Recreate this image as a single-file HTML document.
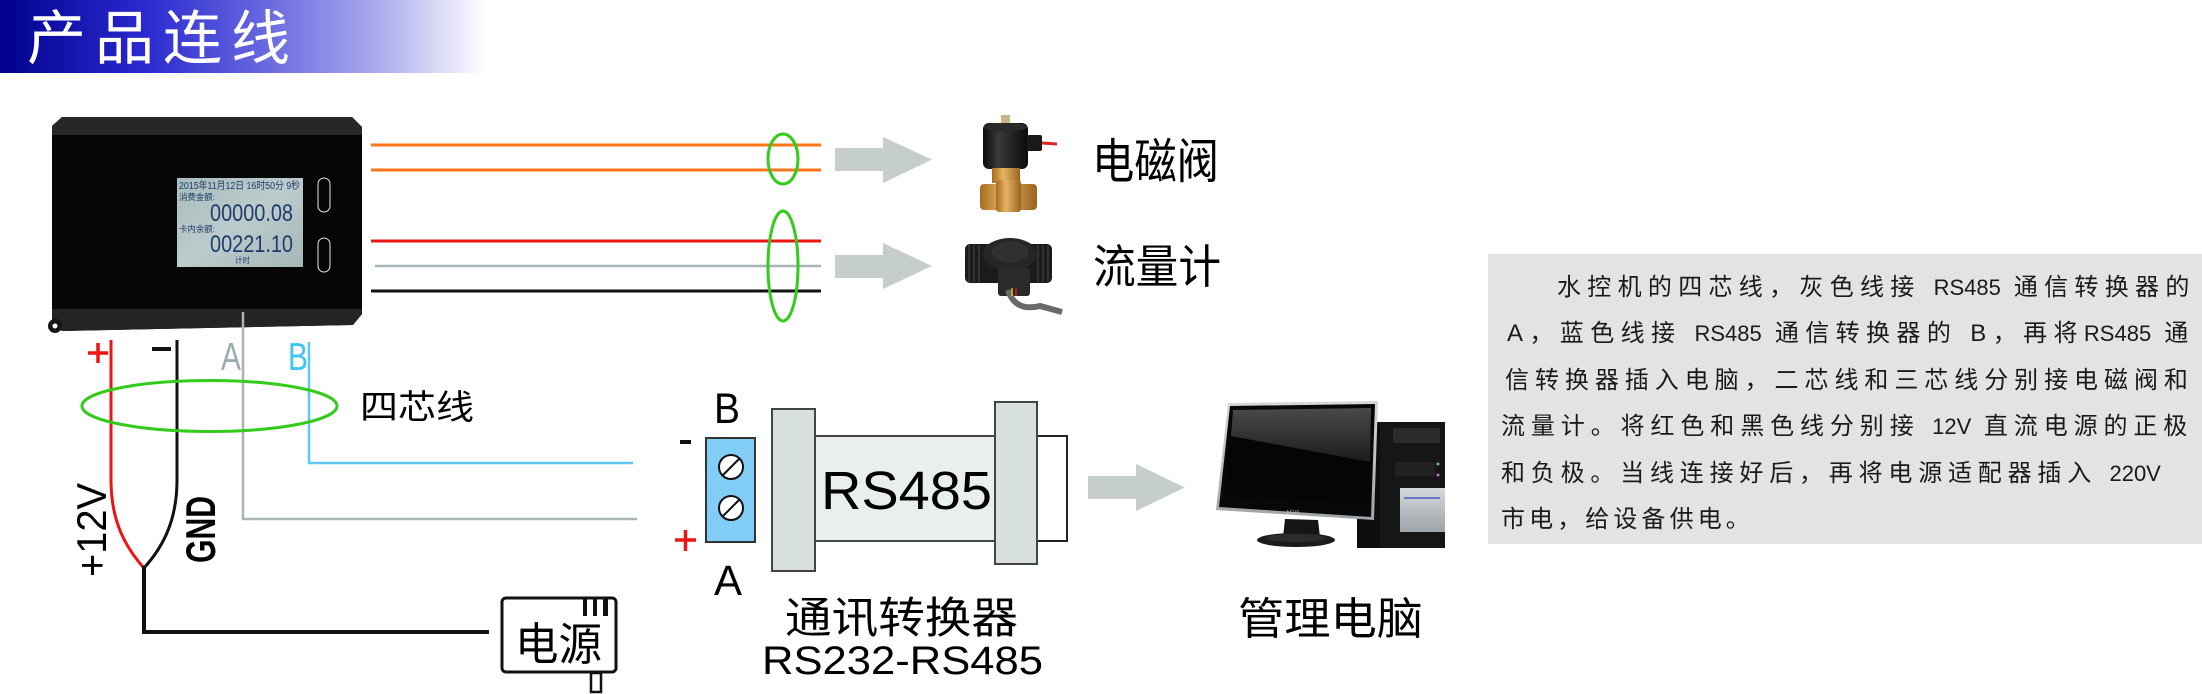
<!DOCTYPE html>
<html>
<head>
<meta charset="utf-8">
<style>
html,body{margin:0;padding:0;background:#fff;}
body{width:2202px;height:694px;overflow:hidden;}
svg{display:block;}
text{font-family:"Liberation Sans","Noto Sans CJK SC",sans-serif;}
.cjk{font-family:"Liberation Sans","Noto Sans CJK SC",sans-serif;}
</style>
</head>
<body>
<svg width="2202" height="694" viewBox="0 0 2202 694" xmlns="http://www.w3.org/2000/svg">
<defs>
  <linearGradient id="hdr" x1="0" y1="0" x2="1" y2="0">
    <stop offset="0" stop-color="#00008c"/>
    <stop offset="0.3" stop-color="#2a2ad0"/>
    <stop offset="0.55" stop-color="#6a6ae0"/>
    <stop offset="0.78" stop-color="#acacee"/>
    <stop offset="1" stop-color="#ffffff"/>
  </linearGradient>
  <linearGradient id="lcd" x1="0" y1="0" x2="1" y2="1">
    <stop offset="0" stop-color="#a9bcbc"/>
    <stop offset="0.5" stop-color="#bccbcb"/>
    <stop offset="1" stop-color="#a5b7b8"/>
  </linearGradient>
  <linearGradient id="brass" x1="0" y1="0" x2="1" y2="0">
    <stop offset="0" stop-color="#a86c20"/>
    <stop offset="0.4" stop-color="#e4b464"/>
    <stop offset="1" stop-color="#9a6420"/>
  </linearGradient>
  <linearGradient id="coil" x1="0" y1="0" x2="1" y2="0">
    <stop offset="0" stop-color="#0a0a0a"/>
    <stop offset="0.35" stop-color="#3a3a3a"/>
    <stop offset="1" stop-color="#0a0a0a"/>
  </linearGradient>
  <linearGradient id="scr" x1="0" y1="0" x2="0" y2="1">
    <stop offset="0" stop-color="#4a4a4a"/>
    <stop offset="1" stop-color="#1c1c1c"/>
  </linearGradient>
  <linearGradient id="silver" x1="0" y1="0" x2="0" y2="1">
    <stop offset="0" stop-color="#d6d9dc"/>
    <stop offset="1" stop-color="#9ea3a8"/>
  </linearGradient>
</defs>

<!-- Header -->
<rect x="0" y="0" width="487" height="73" fill="url(#hdr)"/>
<text x="27" y="59" font-size="59" fill="#ffffff" letter-spacing="9" class="cjk">产品连线</text>

<!-- Device -->
<polygon points="52,126 62,117 352,117 362,127 362,314 353,325 62,331 52,322" fill="#060606"/>
<polygon points="52,126 62,117 352,117 362,127 362,135 52,135" fill="#272727"/>
<polygon points="52,309 362,309 362,314 353,325 62,331 52,322" fill="#242424"/>
<circle cx="55" cy="326" r="7" fill="#151515"/>
<circle cx="55" cy="326" r="2.5" fill="#ffffff"/>
<!-- LCD -->
<rect x="177" y="178" width="126" height="89" fill="url(#lcd)"/>
<g fill="#1d3b6c">
  <text x="179" y="189" font-size="10" textLength="121" lengthAdjust="spacingAndGlyphs">2015年11月12日 16时50分 9秒</text>
  <text x="179" y="200" font-size="8.5" textLength="36" lengthAdjust="spacingAndGlyphs">消费金额:</text>
  <text x="210" y="221" font-size="24" textLength="83" lengthAdjust="spacingAndGlyphs">00000.08</text>
  <text x="179" y="232" font-size="8.5" textLength="36" lengthAdjust="spacingAndGlyphs">卡内余额:</text>
  <text x="210" y="252" font-size="24" textLength="83" lengthAdjust="spacingAndGlyphs">00221.10</text>
  <text x="235" y="263" font-size="8" textLength="15" lengthAdjust="spacingAndGlyphs">计时</text>
</g>
<rect x="318" y="178" width="12" height="34" rx="6" fill="none" stroke="#e8e8e8" stroke-width="1"/>
<rect x="318" y="238" width="12" height="34" rx="6" fill="none" stroke="#e8e8e8" stroke-width="1"/>

<!-- Right wires -->
<line x1="371" y1="145" x2="821" y2="145" stroke="#ff7518" stroke-width="3"/>
<line x1="371" y1="170" x2="821" y2="170" stroke="#ff7518" stroke-width="3"/>
<line x1="371" y1="241" x2="821" y2="241" stroke="#ee1414" stroke-width="3"/>
<line x1="375" y1="266" x2="821" y2="266" stroke="#a8b4b8" stroke-width="2.5"/>
<line x1="371" y1="291" x2="821" y2="291" stroke="#111111" stroke-width="3"/>
<ellipse cx="783" cy="159" rx="15" ry="25" fill="none" stroke="#33cc1a" stroke-width="3"/>
<ellipse cx="783" cy="266" rx="15" ry="55" fill="none" stroke="#33cc1a" stroke-width="3"/>

<!-- Arrows -->
<polygon points="835,148 883,148 883,137 932,159.5 883,183 883,171 835,171" fill="#c5cdcd"/>
<polygon points="835,255 883,255 883,243 932,266 883,289 883,278 835,278" fill="#c5cdcd"/>
<polygon points="1088,476 1136,476 1136,464 1185,487.5 1136,511 1136,499 1088,499" fill="#c5cdcd"/>

<!-- Solenoid valve -->
<rect x="1001" y="115" width="9" height="10" fill="#c9b58a"/>
<rect x="983" y="123" width="45" height="46" rx="6" fill="url(#coil)"/>
<ellipse cx="1005.5" cy="127" rx="22" ry="4" fill="#2a2a2a"/>
<rect x="1027" y="135" width="15" height="16" rx="2" fill="#1a1a1a"/>
<line x1="1042" y1="143" x2="1057" y2="144" stroke="#e02424" stroke-width="3"/>
<rect x="992" y="168" width="28" height="15" fill="url(#brass)"/>
<rect x="980" y="184" width="57" height="26" rx="4" fill="url(#brass)"/>
<rect x="996" y="180" width="25" height="32" rx="3" fill="url(#brass)"/>

<!-- Flow meter -->
<rect x="965" y="244" width="87" height="39" rx="5" fill="#1b1b1b"/>
<g stroke="#3a3a3a" stroke-width="1.5">
  <line x1="969" y1="245" x2="969" y2="282"/><line x1="974" y1="245" x2="974" y2="282"/><line x1="979" y1="245" x2="979" y2="282"/>
  <line x1="1038" y1="245" x2="1038" y2="282"/><line x1="1043" y1="245" x2="1043" y2="282"/><line x1="1048" y1="245" x2="1048" y2="282"/>
</g>
<ellipse cx="1010" cy="254" rx="27" ry="16" fill="#262626"/>
<ellipse cx="1010" cy="252" rx="18" ry="11" fill="#303030"/>
<rect x="998" y="268" width="32" height="28" rx="3" fill="#2a2a2a"/>
<path d="M1008 290 Q1015 312 1040 306 L1062 312" fill="none" stroke="#6a6a6a" stroke-width="6"/>
<line x1="1012" y1="288" x2="1012" y2="296" stroke="#e0c020" stroke-width="1.5"/>
<line x1="1016" y1="288" x2="1016" y2="296" stroke="#d02020" stroke-width="1.5"/>

<!-- Labels top right -->
<text x="1092" y="178" font-size="48" textLength="127" lengthAdjust="spacingAndGlyphs" fill="#000">电磁阀</text>
<text x="1093" y="283" font-size="46" textLength="128" lengthAdjust="spacingAndGlyphs" fill="#000">流量计</text>

<!-- Text box -->
<rect x="1488" y="254" width="714" height="290" fill="#e3e3e3"/>
<g font-size="24" fill="#1a1a1a">
  <text x="1557" y="295" letter-spacing="6.3">水控机的四芯线，灰色线接 <tspan font-size="22" letter-spacing="0">RS485</tspan> 通信转换器的</text>
  <text x="1507" y="341" letter-spacing="6.4">A，蓝色线接 <tspan font-size="22" letter-spacing="0">RS485</tspan> 通信转换器的 B，再将<tspan font-size="22" letter-spacing="0">RS485</tspan> 通</text>
  <text x="1505" y="388" letter-spacing="5.95">信转换器插入电脑，二芯线和三芯线分别接电磁阀和</text>
  <text x="1501" y="434" letter-spacing="5.9">流量计。将红色和黑色线分别接 <tspan font-size="22" letter-spacing="0">12V</tspan> 直流电源的正极</text>
  <text x="1501" y="481" letter-spacing="5.8">和负极。当线连接好后，再将电源适配器插入 <tspan font-size="22" letter-spacing="0">220V</tspan></text>
  <text x="1501" y="527" letter-spacing="4.1">市电，给设备供电。</text>
</g>

<!-- Lower-left wiring -->
<path d="M243 312 L243 519 L637 519" fill="none" stroke="#a8b4b8" stroke-width="2.5"/>
<path d="M309 342 L309 463 L633 463" fill="none" stroke="#5cc8f5" stroke-width="2.5"/>
<path d="M111 340 L111 480 C111 522 126 548 144 568" fill="none" stroke="#ee1414" stroke-width="3"/>
<path d="M177 340 L177 480 C177 522 162 548 144 568" fill="none" stroke="#111" stroke-width="3"/>
<path d="M144 566 L144 632 L489 632" fill="none" stroke="#111" stroke-width="4"/>
<!-- + and - labels -->
<line x1="88" y1="353" x2="108" y2="353" stroke="#ee1414" stroke-width="3.5"/>
<line x1="98" y1="343" x2="98" y2="363" stroke="#ee1414" stroke-width="3.5"/>
<rect x="152" y="347" width="19" height="4" fill="#111"/>
<text x="221" y="370" font-size="39" textLength="20" lengthAdjust="spacingAndGlyphs" fill="#9aabb0">A</text>
<text x="288" y="370" font-size="39" textLength="20" lengthAdjust="spacingAndGlyphs" fill="#40c4f4">B</text>
<ellipse cx="209.5" cy="406" rx="127.5" ry="25.5" fill="none" stroke="#33cc1a" stroke-width="3"/>
<text x="360" y="419" font-size="34" textLength="114" lengthAdjust="spacingAndGlyphs" fill="#000">四芯线</text>
<text transform="translate(106,577) rotate(-90)" x="0" y="0" font-size="42" textLength="94" lengthAdjust="spacingAndGlyphs" fill="#000">+12V</text>
<text transform="translate(215,563) rotate(-90)" x="0" y="0" font-size="42" font-weight="bold" textLength="67" lengthAdjust="spacingAndGlyphs" fill="#000">GND</text>

<!-- Power adapter -->
<rect x="502" y="598" width="114" height="74" rx="4" fill="#fff" stroke="#111" stroke-width="3"/>
<rect x="583" y="598" width="4" height="18" fill="#111"/>
<rect x="593" y="598" width="4" height="18" fill="#111"/>
<rect x="603" y="598" width="5" height="18" fill="#111"/>
<rect x="591" y="673" width="10" height="19" fill="#fff" stroke="#111" stroke-width="2.5"/>
<text x="515" y="660" font-size="45" textLength="87" lengthAdjust="spacingAndGlyphs" fill="#000">电源</text>

<!-- Converter -->
<text x="714" y="423" font-size="43" textLength="26" lengthAdjust="spacingAndGlyphs" fill="#000">B</text>
<rect x="680" y="440" width="11" height="4" fill="#111"/>
<rect x="706" y="438" width="49" height="104" fill="#82cdf5" stroke="#333" stroke-width="2"/>
<circle cx="731" cy="467" r="12" fill="#fff" stroke="#111" stroke-width="2"/>
<line x1="723" y1="475" x2="739" y2="459" stroke="#111" stroke-width="2"/>
<circle cx="731" cy="508" r="12" fill="#fff" stroke="#111" stroke-width="2"/>
<line x1="723" y1="516" x2="739" y2="500" stroke="#111" stroke-width="2"/>
<line x1="675" y1="540" x2="696" y2="540" stroke="#ee1414" stroke-width="3.5"/>
<line x1="685.5" y1="530" x2="685.5" y2="551" stroke="#ee1414" stroke-width="3.5"/>
<text x="714" y="595" font-size="43" textLength="28" lengthAdjust="spacingAndGlyphs" fill="#000">A</text>
<rect x="815" y="436" width="180" height="105" fill="#e9eeee" stroke="#444" stroke-width="2"/>
<rect x="1037" y="436" width="30" height="105" fill="#fff" stroke="#222" stroke-width="2"/>
<rect x="772" y="409" width="43" height="162" fill="#d7dfdf" stroke="#444" stroke-width="2"/>
<rect x="995" y="402" width="42" height="162" fill="#d7dfdf" stroke="#444" stroke-width="2"/>
<text x="821" y="509" font-size="54" textLength="171" lengthAdjust="spacingAndGlyphs" fill="#000">RS485</text>
<text x="785" y="633" font-size="43" textLength="233" lengthAdjust="spacingAndGlyphs" fill="#000">通讯转换器</text>
<text x="762" y="674" font-size="40" textLength="281" lengthAdjust="spacingAndGlyphs" fill="#000">RS232-RS485</text>

<!-- Computer: tower -->
<rect x="1357" y="422" width="88" height="126" fill="#0e0e0e"/>
<rect x="1380" y="422" width="65" height="126" fill="#161616"/>
<rect x="1393" y="428" width="47" height="15" fill="#2c2c2c"/>
<rect x="1395" y="462" width="40" height="14" fill="#222"/>
<circle cx="1438" cy="464" r="1.5" fill="#6c6"/>
<circle cx="1438" cy="475" r="1.5" fill="#c6c"/>
<rect x="1400" y="488" width="45" height="44" fill="url(#silver)"/>
<line x1="1404" y1="498" x2="1440" y2="498" stroke="#4060c0" stroke-width="1.5"/>
<!-- monitor -->
<polygon points="1228,403 1378,401 1374,520 1216,510" fill="url(#silver)"/>
<polygon points="1230,406 1375,404 1371,517 1219,507" fill="#080808"/>
<polygon points="1233,410 1371,408 1369,505 1224,496" fill="#050505"/>
<polygon points="1233,410 1371,408 1370,462 1231,436" fill="url(#scr)"/>
<text x="1286" y="514" font-size="5" fill="#bbb">ASUS</text>
<polygon points="1285,519 1318,520 1320,537 1283,537" fill="#151515"/>
<ellipse cx="1296" cy="540" rx="39" ry="7" fill="#1c1c1c"/>
<ellipse cx="1296" cy="538" rx="30" ry="4" fill="#2c2c2c"/>
<text x="1238" y="634" font-size="44" textLength="185" lengthAdjust="spacingAndGlyphs" fill="#000">管理电脑</text>
</svg>
</body>
</html>
